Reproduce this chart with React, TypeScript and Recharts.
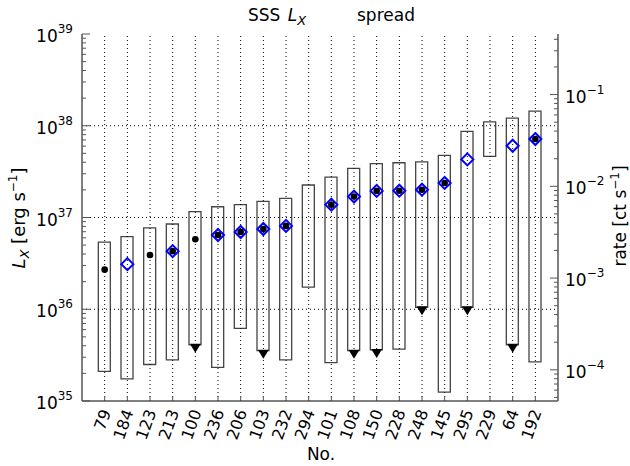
import {
  Bar,
  ComposedChart,
  ReferenceLine,
  Scatter,
  XAxis,
  YAxis,
} from "recharts";

// Source numbers, ordered by increasing upper luminosity
const sources = ["79", "184", "123", "213", "100", "236", "206", "103", "232", "294", "101", "108", "150", "228", "248", "145", "295", "229", "64", "192"];

// Lx spread per source [erg/s]
const lowLx = [2.1e35, 1.74e35, 2.5e35, 2.8e35, 4.1e35, 2.33e35, 6.2e35, 3.54e35, 2.8e35, 1.74e36, 2.62e35, 3.54e35, 3.6e35, 3.67e35, 1.05e36, 1.25e35, 1.05e36, 4.64e37, 4.1e35, 2.67e35];
const highLx = [5.4e36, 6.2e36, 7.7e36, 8.5e36, 1.16e37, 1.31e37, 1.38e37, 1.5e37, 1.62e37, 2.26e37, 2.76e37, 3.43e37, 3.86e37, 3.95e37, 4.03e37, 4.76e37, 8.7e37, 1.1e38, 1.21e38, 1.44e38];

// lower end is only an upper limit (drawn with a down triangle)
const lowIsLimit = [false, false, false, false, true, false, false, true, false, false, false, true, true, false, true, false, true, false, true, false];

// black dots and blue diamonds (null = not measured)
const dotLx = [2.7e36, null, 3.9e36, 4.3e36, 5.8e36, 6.45e36, 6.95e36, 7.5e36, 8.1e36, null, 1.38e37, 1.69e37, 1.95e37, 1.96e37, 2.01e37, 2.38e37, null, null, null, 7.16e37];
const diamondLx = [null, 3.1e36, null, 4.3e36, null, 6.45e36, 6.95e36, 7.5e36, 8.1e36, null, 1.38e37, 1.69e37, 1.95e37, 1.96e37, 2.01e37, 2.38e37, 4.3e37, null, 6.05e37, 7.16e37];

const lxDecades = [1e35, 1e36, 1e37, 1e38, 1e39];
// count rate per unit Lx used for the right-hand axis
const rateScale = Math.pow(10, -39.34);

const FONT = "DejaVu Sans";
const FRAME = "#555";

const withMinors = (decades: number[], lo: number, hi: number) => {
  const out: number[] = [];
  decades.forEach((d) => {
    for (let m = 1; m < 10; m++) {
      const v = d * m;
      if (v >= lo * 0.999 && v <= hi * 1.001) out.push(v);
    }
  });
  return out;
};

const isDecade = (v: number) => Math.abs(Math.log10(v) - Math.round(Math.log10(v))) < 1e-6;
const expOf = (v: number) => String(Math.round(Math.log10(v))).replace("-", "\u2212");

const rows = sources.map((name, i) => ({ pos: i + 1, name, range: [lowLx[i], highLx[i]] }));
const dotRows = rows.filter((_, i) => dotLx[i] != null).map((r) => ({ pos: r.pos, lx: dotLx[r.pos - 1] }));
const diamondRows = rows.filter((_, i) => diamondLx[i] != null).map((r) => ({ pos: r.pos, lx: diamondLx[r.pos - 1] }));
const limitRows = rows.filter((_, i) => lowIsLimit[i]).map((r) => ({ pos: r.pos, lx: r.range[0] }));

const lxTicks = withMinors([1e35, 1e36, 1e37, 1e38], 1e35, 1e39).concat([1e39]);
const rateDomain = [1e35 * rateScale, 1e39 * rateScale];
const rateTicks = withMinors([1e-5, 1e-4, 1e-3, 1e-2, 1e-1], rateDomain[0], rateDomain[1]);
const xTicks = rows.map((r) => r.pos);

function LeftTick({ x, y, payload }: any) {
  const major = isDecade(payload.value);
  return (
    <g>
      <line x1={x} x2={x + (major ? 8 : 4)} y1={y} y2={y} stroke={FRAME} strokeWidth={1} />
      {major && (
        <text x={x - 9} y={y + 8} textAnchor="end" fontSize={17} fontFamily={FONT} fill="#000">
          10<tspan dy={-9} fontSize={12}>{expOf(payload.value)}</tspan>
        </text>
      )}
    </g>
  );
}

function RightTick({ x, y, payload }: any) {
  const major = isDecade(payload.value);
  return (
    <g>
      <line x1={x} x2={x - (major ? 8 : 4)} y1={y} y2={y} stroke={FRAME} strokeWidth={1} />
      {major && (
        <text x={x + 7} y={y + 8} textAnchor="start" fontSize={17} fontFamily={FONT} fill="#000">
          10<tspan dy={-9} fontSize={12}>{expOf(payload.value)}</tspan>
        </text>
      )}
    </g>
  );
}

function BottomTick({ x, y, payload }: any) {
  const name = sources[payload.value - 1] ?? "";
  const px = x + 6.5;
  const py = y + 11;
  return (
    <g>
      <line x1={x} x2={x} y1={y} y2={y - 5} stroke={FRAME} strokeWidth={1} />
      <text x={px} y={py} textAnchor="end" fontSize={16} fontFamily={FONT} fill="#000" transform={`rotate(-70 ${px} ${py})`}>
        {name}
      </text>
    </g>
  );
}

function TopTick({ x, y }: any) {
  return <line x1={x} x2={x} y1={y} y2={y + 5} stroke={FRAME} strokeWidth={1} />;
}

function Diamond({ cx, cy }: any) {
  const r = 6;
  return <path d={`M${cx},${cy - r}L${cx + r},${cy}L${cx},${cy + r}L${cx - r},${cy}Z`} fill="none" stroke="#0000ff" strokeWidth={2} />;
}

function Dot({ cx, cy }: any) {
  return <circle cx={cx} cy={cy} r={3.3} fill="#000" />;
}

function DownTriangle({ cx, cy }: any) {
  return <path d={`M${cx - 5.5},${cy - 1}L${cx + 5.5},${cy - 1}L${cx},${cy + 8}Z`} fill="#000" />;
}

export default function App() {
  return (
    <div style={{ position: "absolute", left: 0, top: 0, background: "#fff" }}>
      <ComposedChart width={630} height={466} data={rows} margin={{ top: 34, right: 0, bottom: 0, left: 0 }}>
        <XAxis
          dataKey="pos"
          type="number"
          domain={[0, 21]}
          ticks={xTicks}
          interval={0}
          height={65}
          tickSize={0}
          tickMargin={0}
          tickLine={false}
          axisLine={{ stroke: FRAME, strokeWidth: 1.5 }}
          tick={(p: any) => <BottomTick {...p} />}
        />
        <XAxis
          xAxisId="top"
          orientation="top"
          dataKey="pos"
          type="number"
          domain={[0, 21]}
          ticks={xTicks}
          interval={0}
          height={0}
          tickSize={0}
          tickMargin={0}
          tickLine={false}
          axisLine={{ stroke: FRAME, strokeWidth: 1.5 }}
          tick={(p: any) => <TopTick {...p} />}
        />
        <YAxis
          type="number"
          scale="log"
          domain={[1e35, 1e39]}
          allowDataOverflow
          ticks={lxTicks}
          interval={0}
          width={82}
          tickSize={0}
          tickMargin={0}
          tickLine={false}
          axisLine={{ stroke: FRAME, strokeWidth: 1.5 }}
          tick={(p: any) => <LeftTick {...p} />}
        />
        <YAxis
          yAxisId="rate"
          orientation="right"
          type="number"
          scale="log"
          domain={rateDomain}
          allowDataOverflow
          ticks={rateTicks}
          interval={0}
          width={72}
          tickSize={0}
          tickMargin={0}
          tickLine={false}
          axisLine={{ stroke: FRAME, strokeWidth: 1.5 }}
          tick={(p: any) => <RightTick {...p} />}
        />

        {xTicks.map((p) => (
          <ReferenceLine key={`vx-${p}`} x={p} stroke="#000" strokeWidth={1} strokeDasharray="1 3" />
        ))}
        {lxDecades.slice(1, -1).map((d) => (
          <ReferenceLine key={`hy-${d}`} y={d} stroke="#000" strokeWidth={1} strokeDasharray="1 3" />
        ))}

        <Bar dataKey="range" barSize={12} fill="none" stroke="#444" strokeWidth={1.3} isAnimationActive={false} />
        <Scatter data={diamondRows} dataKey="lx" shape={(p: any) => <Diamond {...p} />} isAnimationActive={false} />
        <Scatter data={dotRows} dataKey="lx" shape={(p: any) => <Dot {...p} />} isAnimationActive={false} />
        <Scatter data={limitRows} dataKey="lx" shape={(p: any) => <DownTriangle {...p} />} isAnimationActive={false} />

        <text x={248} y={21} fontSize={17} fontFamily={FONT} fill="#000">
          SSS <tspan fontStyle="italic" dx={2}>L</tspan>
          <tspan fontStyle="italic" fontSize={13} dy={4}>X</tspan>
          <tspan x={357} dy={-4}>spread</tspan>
        </text>
        <text x={25} y={218} fontSize={18} fontFamily={FONT} fill="#000" textAnchor="middle" transform="rotate(-90 25 218)">
          <tspan fontStyle="italic">L</tspan>
          <tspan fontStyle="italic" fontSize={13} dy={4}>X</tspan>
          <tspan dy={-4}> [erg s</tspan>
          <tspan fontSize={12} dy={-8}>{"\u22121"}</tspan>
          <tspan dy={8}>]</tspan>
        </text>
        <text x={626} y={216} fontSize={17} fontFamily={FONT} fill="#000" textAnchor="middle" transform="rotate(-90 626 216)">
          rate [ct s<tspan fontSize={12} dy={-7}>{"\u22121"}</tspan>
          <tspan dy={7}>]</tspan>
        </text>
        <text x={321} y={460} fontSize={17} fontFamily={FONT} fill="#000" textAnchor="middle">
          No.
        </text>
      </ComposedChart>
    </div>
  );
}
